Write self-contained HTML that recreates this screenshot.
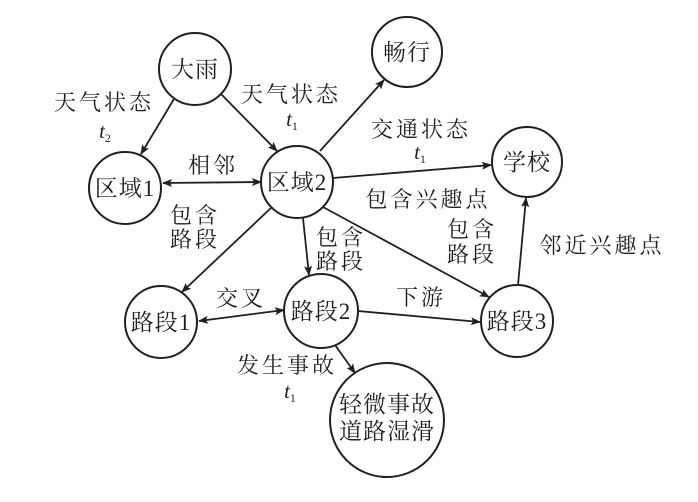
<!DOCTYPE html>
<html><head><meta charset="utf-8"><style>
html,body{margin:0;padding:0;background:#fff;}
svg{display:block;}
text{font-family:"Liberation Serif","Noto Serif CJK SC","Noto Sans CJK SC",serif;fill:#231f20;text-anchor:middle;}
.n{font-size:23px;letter-spacing:1px;}
.l{font-size:22px;letter-spacing:3px;}
.t{font-style:italic;font-size:21px;}
.s{font-size:12px;font-style:normal;}
</style></head><body>
<svg width="698" height="502" viewBox="0 0 698 502" xmlns="http://www.w3.org/2000/svg">
<defs><marker id="a" markerWidth="10" markerHeight="8" refX="9" refY="4" orient="auto-start-reverse" markerUnits="userSpaceOnUse"><path d="M0,0 L10,4 L0,8 L2,4 Z" fill="#231f20"/></marker></defs>
<g fill="none" stroke="#231f20" stroke-width="2">
<circle cx="195" cy="69" r="36"/>
<circle cx="407" cy="52" r="35"/>
<circle cx="125" cy="188" r="36"/>
<circle cx="297" cy="182" r="36"/>
<circle cx="527" cy="162" r="35"/>
<circle cx="161" cy="322" r="36"/>
<circle cx="321" cy="311" r="37"/>
<circle cx="517" cy="321" r="36"/>
<circle cx="387" cy="420" r="57"/>
</g>
<g stroke="#231f20" stroke-width="1.8" fill="none">
<line x1="174" y1="99" x2="141" y2="154" marker-end="url(#a)"/>
<line x1="221" y1="94" x2="277" y2="151" marker-end="url(#a)"/>
<line x1="163" y1="183" x2="261" y2="182" marker-start="url(#a)" marker-end="url(#a)"/>
<line x1="320" y1="151" x2="384" y2="80" marker-end="url(#a)"/>
<line x1="333" y1="178" x2="491" y2="165" marker-end="url(#a)"/>
<line x1="323" y1="207" x2="489" y2="297" marker-end="url(#a)"/>
<line x1="303" y1="218" x2="309" y2="275" marker-end="url(#a)"/>
<line x1="271" y1="208" x2="182" y2="292" marker-end="url(#a)"/>
<line x1="199" y1="321" x2="284" y2="310" marker-start="url(#a)" marker-end="url(#a)"/>
<line x1="358" y1="311" x2="480" y2="322" marker-end="url(#a)"/>
<line x1="518" y1="285" x2="526" y2="198" marker-end="url(#a)"/>
<line x1="335" y1="345" x2="355" y2="373" marker-end="url(#a)"/>
</g>
<text class="n" x="195" y="77">大雨</text>
<text class="n" x="407" y="60">畅行</text>
<text class="n" x="125" y="196">区域1</text>
<text class="n" x="297" y="190">区域2</text>
<text class="n" x="527" y="170">学校</text>
<text class="n" x="161" y="330">路段1</text>
<text class="n" x="321" y="319">路段2</text>
<text class="n" x="517" y="329">路段3</text>
<text class="n" x="387" y="412">轻微事故</text>
<text class="n" x="387" y="439">道路湿滑</text>
<text class="l" x="104" y="110">天气状态</text>
<text class="t" x="105" y="138">t<tspan class="s" dy="4">2</tspan></text>
<text class="l" x="291" y="102">天气状态</text>
<text class="t" x="292" y="126">t<tspan class="s" dy="4">1</tspan></text>
<text class="l" x="213" y="173">相邻</text>
<text class="l" x="421" y="137">交通状态</text>
<text class="t" x="420" y="159">t<tspan class="s" dy="4">1</tspan></text>
<text class="l" x="428" y="207">包含兴趣点</text>
<text class="l" x="195" y="223">包含</text>
<text class="l" x="341" y="245">包含</text>
<text class="l" x="341" y="269">路段</text>
<text class="l" x="195" y="247">路段</text>
<text class="l" x="472" y="237">包含</text>
<text class="l" x="472" y="262">路段</text>
<text class="l" x="602" y="253">邻近兴趣点</text>
<text class="l" x="241" y="306">交叉</text>
<text class="l" x="421" y="305">下游</text>
<text class="l" x="287" y="373">发生事故</text>
<text class="t" x="290" y="398">t<tspan class="s" dy="4">1</tspan></text>
</svg>
</body></html>
